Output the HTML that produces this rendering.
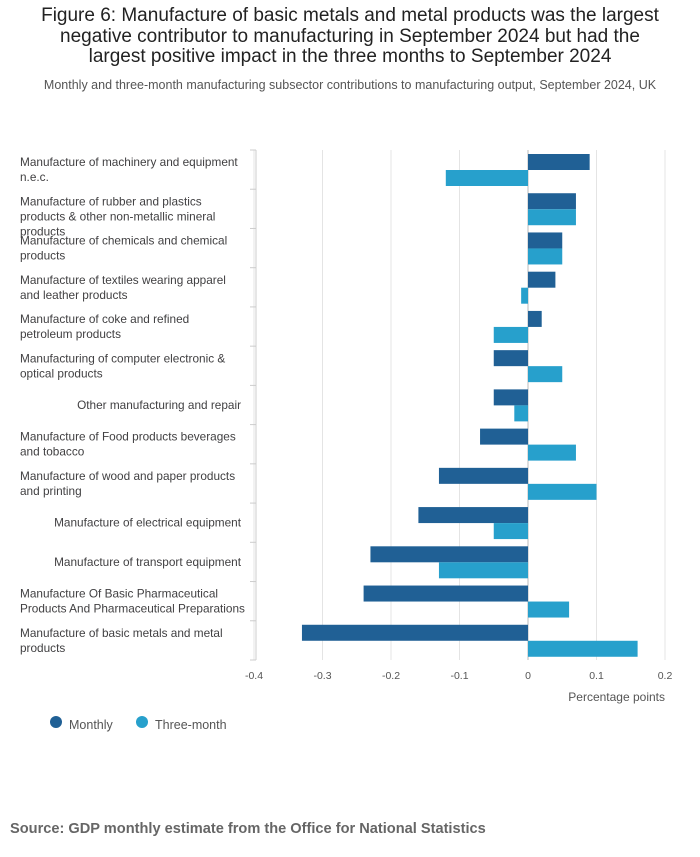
<!DOCTYPE html>
<html><head><meta charset="utf-8"><style>
body{margin:0;width:700px;height:857px;background:#fff;font-family:"Liberation Sans",sans-serif;position:relative;overflow:hidden}
#title{position:absolute;top:6px;left:0;width:700px;text-align:center;font-size:19px;line-height:20.5px;color:#222}
#sub{position:absolute;top:78px;left:0;width:700px;text-align:center;font-size:12.5px;color:#555}
#src{position:absolute;top:821px;left:10px;font-size:14.6px;font-weight:bold;color:#666}
svg{position:absolute;left:0;top:0}
</style></head><body>
<div id="title">Figure 6: Manufacture of basic metals and metal products was the largest<br>negative contributor to manufacturing in September 2024 but had the<br>largest positive impact in the three months to September 2024</div>
<div id="sub">Monthly and three-month manufacturing subsector contributions to manufacturing output, September 2024, UK</div>
<svg id="chart" width="700" height="857"></svg>
<div id="src">Source: GDP monthly estimate from the Office for National Statistics</div>
<script>
const categories=[
["Manufacture of machinery and equipment","n.e.c."],
["Manufacture of rubber and plastics","products & other non-metallic mineral","products"],
["Manufacture of chemicals and chemical","products"],
["Manufacture of textiles wearing apparel","and leather products"],
["Manufacture of coke and refined","petroleum products"],
["Manufacturing of computer electronic &","optical products"],
["Other manufacturing and repair"],
["Manufacture of Food products beverages","and tobacco"],
["Manufacture of wood and paper products","and printing"],
["Manufacture of electrical equipment"],
["Manufacture of transport equipment"],
["Manufacture Of Basic Pharmaceutical","Products And Pharmaceutical Preparations"],
["Manufacture of basic metals and metal","products"]];
const monthly=[0.09,0.07,0.05,0.04,0.02,-0.05,-0.05,-0.07,-0.13,-0.16,-0.23,-0.24,-0.33];
const threeMonth=[-0.12,0.07,0.05,-0.01,-0.05,0.05,-0.02,0.07,0.10,-0.05,-0.13,0.06,0.16];
const ticks=[-0.4,-0.3,-0.2,-0.1,0,0.1,0.2];
const tickLabels=["-0.4","-0.3","-0.2","-0.1","0","0.1","0.2"];
const svg=document.getElementById('chart');const NS="http://www.w3.org/2000/svg";
const top0=150,bottom=660,rowH=(bottom-top0)/categories.length;
const x=v=>528+v*685;
function mk(t,a,p){const e=document.createElementNS(NS,t);for(const k in a)e.setAttribute(k,a[k]);(p||svg).appendChild(e);return e;}
ticks.forEach((t,i)=>{
 const g=mk('line',{x1:x(t),x2:x(t),y1:top0,y2:bottom,stroke:t===0?'#bbb':'#e4e4e4','stroke-width':1});
 
 
 const l=mk('text',{x:x(t),y:679,'text-anchor':'middle','font-size':10.5,fill:'#555'});l.textContent=tickLabels[i];
 
 
});
const ax=mk('line',{x1:256,x2:256,y1:top0,y2:bottom,stroke:'#ccc'});


for(let i=0;i<=categories.length;i++){const tk=mk('line',{x1:250,x2:256,y1:top0+i*rowH,y2:top0+i*rowH,stroke:'#ccc'});
 
 }
const xt=mk('text',{x:665,y:701,'text-anchor':'end','font-size':12,fill:'#555'});xt.textContent='Percentage points';


categories.forEach((c,i)=>{
 const y0=top0+i*rowH,cy=y0+rowH/2;
 const single=c.length===1;
 c.forEach((line,j)=>{
  const ty=cy-(c.length===3?7.5:(c.length-1)*7.5)+j*15+4;
  const t=mk('text',{x:single?241:20,y:ty,'text-anchor':single?'end':'start','font-size':11.8,fill:'#414042'});
  t.textContent=line;
  
  
 });
 const m=monthly[i],tm=threeMonth[i];
 const b1=mk('rect',{x:Math.min(x(0),x(m)),y:y0+4,width:Math.abs(x(m)-x(0)),height:16,fill:'#206095'});
 
 
 const b2=mk('rect',{x:Math.min(x(0),x(tm)),y:y0+20,width:Math.abs(x(tm)-x(0)),height:16,fill:'#27a0cc'});
 
 
});
[['Monthly','#206095',56],['Three-month','#27a0cc',142]].forEach(([n,c,lx])=>{
 const g=mk('g',{});
 
 
 mk('circle',{cx:lx,cy:722,r:6,fill:c},g);
 const t=mk('text',{x:lx+13,y:729,'font-size':12.5,fill:'#555'},g);t.textContent=n;
});
</script>
</body></html>
